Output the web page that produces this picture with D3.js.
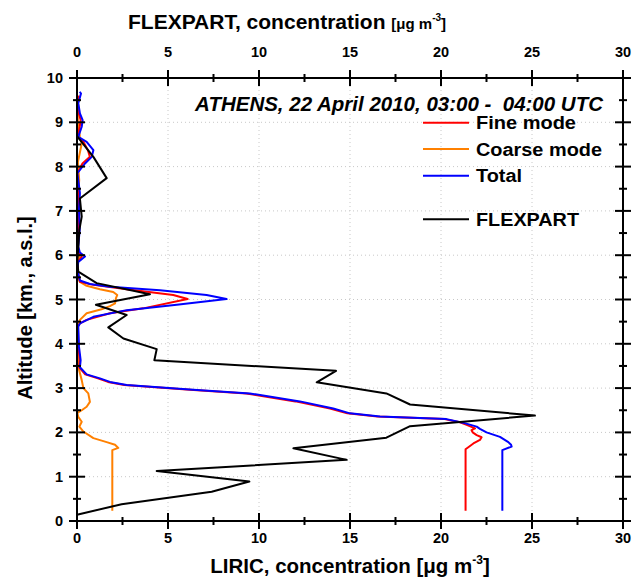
<!DOCTYPE html>
<html><head><meta charset="utf-8">
<script src="https://cdn.jsdelivr.net/npm/d3@7"></script>
<style>body{margin:0;background:#fff}svg{display:block}text{font-family:"Liberation Sans",Arial,sans-serif;font-weight:bold}</style>
</head><body><svg id="c" width="635" height="577"></svg>
<script>
// ---- data: [concentration, altitude km] ----
const fineMode = [[21.35,0.23],[21.35,1.62],[21.78,1.75],[22.14,1.83],[22.23,1.89],[21.96,1.94],[21.74,2.0],[21.68,2.05],[21.87,2.09],[21.41,2.17],[21.04,2.23],[20.2,2.30],[17.6,2.34],[16.5,2.36],[14.85,2.43],[13.9,2.54],[12.0,2.70],[9.3,2.88],[6.2,2.96],[2.6,3.07],[1.7,3.14],[1.15,3.22],[0.45,3.31],[0.12,3.47],[0.15,3.63],[0.08,3.93],[0.05,4.39],[0.16,4.46],[0.53,4.54],[1.81,4.69],[3.64,4.80],[6.08,5.01],[5.29,5.10],[2.73,5.23],[0.9,5.33],[0.16,5.40],[0.02,5.67],[0.05,5.85],[0.26,5.97],[0.1,6.06],[0.05,6.19],[0.1,6.6],[0.08,7.02],[0.1,7.40],[0.02,7.85],[0.3,8.07],[0.71,8.22],[0.6,8.37],[0.35,8.56],[0.05,8.67],[0.15,8.90],[0.2,9.05],[0.1,9.20],[0.05,9.43],[0.1,9.6]];
const coarseMode = [[1.94,0.23],[1.94,1.6],[2.27,1.65],[2.09,1.72],[1.63,1.78],[0.9,1.87],[0.35,2.02],[0.13,2.13],[0.26,2.24],[0.07,2.35],[0.02,2.44],[0.26,2.5],[0.53,2.58],[0.71,2.69],[0.62,2.88],[0.35,3.0],[0.26,3.18],[0.07,3.48],[0.02,3.93],[0.0,4.39],[0.16,4.54],[0.53,4.69],[1.35,4.78],[1.81,4.85],[2.09,4.91],[2.14,5.03],[2.21,5.10],[1.99,5.17],[1.26,5.23],[0.53,5.31],[0.16,5.40],[0.07,5.49],[0.02,5.8],[0.16,6.04],[0.05,6.1],[0.1,6.6],[0.05,7.2],[0.12,7.7],[0.05,8.1],[0.26,8.52],[0.16,8.67],[0.05,9.0],[0.03,9.43]];
const total = [[23.37,0.23],[23.37,1.6],[23.88,1.68],[23.85,1.72],[23.7,1.78],[23.24,1.90],[22.5,2.0],[22.14,2.08],[21.96,2.13],[21.2,2.22],[20.3,2.30],[17.75,2.34],[16.65,2.36],[15.0,2.43],[14.08,2.54],[12.25,2.70],[9.5,2.88],[6.39,2.96],[2.73,3.07],[1.81,3.14],[1.26,3.22],[0.53,3.31],[0.16,3.47],[0.2,3.63],[0.11,3.93],[0.07,4.39],[0.16,4.46],[0.9,4.61],[2.73,4.76],[5.48,4.88],[8.22,5.01],[7.12,5.10],[4.56,5.21],[1.81,5.29],[0.71,5.35],[0.16,5.43],[0.02,5.67],[0.07,5.85],[0.44,5.97],[0.16,6.06],[0.07,6.19],[0.15,6.6],[0.11,7.02],[0.16,7.40],[0.02,7.85],[0.44,8.07],[0.81,8.22],[0.9,8.37],[0.53,8.56],[0.07,8.67],[0.26,8.90],[0.31,9.05],[0.16,9.20],[0.07,9.43],[0.22,9.65],[0.15,9.69]];
const flexpart = [[0.0,0.14],[2.45,0.38],[7.4,0.66],[9.47,0.89],[4.38,1.13],[14.82,1.38],[11.89,1.64],[17.0,1.88],[18.3,2.14],[25.16,2.38],[18.3,2.63],[17.0,2.88],[13.17,3.13],[14.23,3.39],[4.25,3.63],[4.38,3.88],[2.55,4.12],[1.72,4.37],[2.73,4.65],[1.04,4.88],[4.01,5.12],[1.08,5.37],[0.07,5.63],[0.02,5.88],[0.13,6.57],[0.26,6.87],[0.16,7.28],[1.63,7.74],[0.9,8.22],[0.0,8.69],[0.0,10]];
const xMajor = [0,5,10,15,20,25,30];
const xMinor = [2.5,7.5,12.5,17.5,22.5,27.5];
const yMajor = [0,1,2,3,4,5,6,7,8,9,10];
const yMinor = [0.5,1.5,2.5,3.5,4.5,5.5,6.5,7.5,8.5,9.5];
const seriesNames = ["Fine mode","Coarse mode","Total","FLEXPART"];
const seriesColors = ["#ff0000","#ff8000","#0000ff","#000000"];

const svg = d3.select("#c");
const L=77,R=623,T=78,B=521;
const x = d3.scaleLinear().domain([0,30]).range([L,R]);
const y = d3.scaleLinear().domain([0,10]).range([B,T]);

// grid
const grid = svg.append("g").attr("stroke","#c8c8c8").attr("stroke-width",1).attr("stroke-dasharray","1,3");
xMajor.filter(v=>v>0&&v<30).forEach(v=>grid.append("line").attr("x1",x(v)).attr("x2",x(v)).attr("y1",T).attr("y2",B));
yMajor.filter(v=>v>0&&v<10).forEach(v=>grid.append("line").attr("y1",y(v)).attr("y2",y(v)).attr("x1",L).attr("x2",R));

// curves
const line = d3.line().x(d=>x(d[0])).y(d=>y(d[1]));
const cg = svg.append("g").attr("fill","none").attr("stroke-width",2).attr("stroke-linejoin","round");
cg.append("path").datum(coarseMode).attr("d",line).attr("stroke",seriesColors[1]);
cg.append("path").datum(fineMode).attr("d",line).attr("stroke",seriesColors[0]);
cg.append("path").datum(total).attr("d",line).attr("stroke",seriesColors[2]);
cg.append("path").datum(flexpart).attr("d",line).attr("stroke",seriesColors[3]);

// axes frame
const ax = svg.append("g").attr("stroke","#000").attr("stroke-width",2);
ax.append("rect").attr("x",L).attr("y",T).attr("width",R-L).attr("height",B-T).attr("fill","none");
xMajor.forEach(v=>{[B,T].forEach(yy=>ax.append("line").attr("x1",x(v)).attr("x2",x(v)).attr("y1",yy-8).attr("y2",yy+8));});
xMinor.forEach(v=>{[B,T].forEach(yy=>ax.append("line").attr("x1",x(v)).attr("x2",x(v)).attr("y1",yy-4).attr("y2",yy+4));});
yMajor.forEach(v=>{[L,R].forEach(xx=>ax.append("line").attr("y1",y(v)).attr("y2",y(v)).attr("x1",xx-8).attr("x2",xx+8));});
yMinor.forEach(v=>{[L,R].forEach(xx=>ax.append("line").attr("y1",y(v)).attr("y2",y(v)).attr("x1",xx-4).attr("x2",xx+4));});

// tick labels
const tl = svg.append("g").attr("font-size",14.5).attr("fill","#000");
xMajor.forEach(v=>{
  tl.append("text").attr("x",x(v)).attr("y",B+22).attr("text-anchor","middle").text(v);
  tl.append("text").attr("x",x(v)).attr("y",T-21).attr("text-anchor","middle").text(v);
});
yMajor.forEach(v=>tl.append("text").attr("x",L-14).attr("y",y(v)+5).attr("text-anchor","end").text(v));

// titles
const t1 = svg.append("text").attr("x",128).attr("y",29).attr("font-size",21);
t1.append("tspan").text("FLEXPART, concentration ");
t1.append("tspan").attr("font-size",15).text("[μg m");
t1.append("tspan").attr("font-size",10).attr("dy",-8).text("-3");
t1.append("tspan").attr("font-size",15).attr("dy",8).text("]");

const t2 = svg.append("text").attr("x",(L+R)/2).attr("y",573).attr("font-size",20.5).attr("text-anchor","middle");
t2.append("tspan").text("LIRIC, concentration [μg m");
t2.append("tspan").attr("font-size",12).attr("dy",-9).text("-3");
t2.append("tspan").attr("dy",9).text("]");

svg.append("text").attr("transform","translate(32,308) rotate(-90)").attr("text-anchor","middle").attr("font-size",20).text("Altitude [km., a.s.l.]");

svg.append("text").attr("x",603).attr("y",111).attr("text-anchor","end").attr("font-size",20.5).attr("font-style","italic").style("white-space","pre").text("ATHENS, 22 April 2010, 03:00 -  04:00 UTC");

// legend
const legY = [122.7,149,175.7,219.3];
const legW = [100,126,46,103];
seriesNames.forEach((n,i)=>{
  svg.append("line").attr("x1",423).attr("x2",469).attr("y1",legY[i]).attr("y2",legY[i]).attr("stroke",seriesColors[i]).attr("stroke-width",2);
  svg.append("text").attr("x",476).attr("y",legY[i]+6.5).attr("font-size",18)
    .attr("textLength",legW[i]).attr("lengthAdjust","spacingAndGlyphs").text(n);
});
</script></body></html>
